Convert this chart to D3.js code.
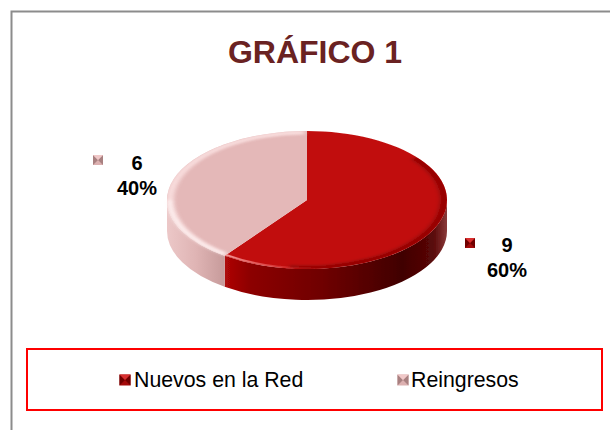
<!DOCTYPE html>
<html><head><meta charset="utf-8">
<script src="https://cdn.jsdelivr.net/npm/d3@7"></script>
<style>html,body{margin:0;padding:0;background:#fff}svg{display:block}text{font-family:"Liberation Sans",Arial,sans-serif}</style>
</head><body><div id="c"></div>
<script>
const categories = ["Nuevos en la Red", "Reingresos"];
const values = [9, 6];
const percentLabels = ["60%", "40%"];
const chartTitle = "GRÁFICO 1";

const W = 610, H = 430;
const cx = 307, cy = 200, rx = 140, ry = 69, depth = 31;
const svg = d3.select("#c").append("svg").attr("width", W).attr("height", H);
const defs = svg.append("defs");

function grad(id, stops, x1, x2) {
  const g = defs.append("linearGradient").attr("id", id).attr("gradientUnits","userSpaceOnUse")
    .attr("x1", x1).attr("x2", x2).attr("y1", 0).attr("y2", 0);
  stops.forEach(s => g.append("stop").attr("offset", s[0]).attr("stop-color", s[1]).attr("stop-opacity", s[2] === undefined ? 1 : s[2]));
}
grad("wallRed", [[0,"#b00808"],[0.12,"#8c0000"],[0.45,"#6e0000"],[0.8,"#400000"],[0.94,"#5a0808"],[1,"#8a3a3a"]], 224, 447);
grad("wallPink", [[0,"#ecc8c8"],[0.5,"#dfb4b4"],[1,"#c69a9a"]], 167, 225);
grad("hiRed", [[0,"#f49a9a",1],[0.5,"#e85a5a",0.7],[1,"#d02020",0]], -82, 10);
defs.append("filter").attr("id","soft").append("feGaussianBlur").attr("stdDeviation",0.5);
defs.append("filter").attr("id","bev").attr("x","-20%").attr("y","-20%").attr("width","140%").attr("height","140%")
  .append("feGaussianBlur").attr("stdDeviation",2.2);
defs.append("clipPath").attr("id","topClip").append("ellipse").attr("rx",rx).attr("ry",rx);

// frame (only top and left visible)
svg.append("path").attr("d", d3.line()([[11.5,H],[11.5,11.5],[W,11.5]]))
  .attr("fill","none").attr("stroke","#8c8c8c").attr("stroke-width",2);

svg.append("text").attr("x",315).attr("y",63).attr("text-anchor","middle")
  .attr("font-size",32).attr("font-weight",700).attr("fill","#6a2222").text(chartTitle);

const pie = d3.pie().sort(null);
const arcs = pie(values);
const arc = d3.arc().innerRadius(0).outerRadius(rx);
const sy = ry / rx;
const topFills = ["#c11010","#e4b8b8"];
const rimFills = ["#8c0606","#fbe2e2"];
const wallFills = ["url(#wallRed)","url(#wallPink)"];

const pieG = svg.append("g").attr("filter","url(#soft)");

// wall
const ex = d3.scaleLinear().domain([-1,1]).range([cx-rx,cx+rx]);
const ey = d3.scaleLinear().domain([-1,1]).range([cy-ry,cy+ry]);
function wallPath(a0, a1) {
  const lo = Math.max(a0, Math.PI/2), hi = Math.min(a1, 3*Math.PI/2);
  if (hi <= lo) return null;
  const pt = (a, d) => [ex(Math.sin(a)), ey(-Math.cos(a)) + d];
  const s0 = pt(lo,0), s1 = pt(hi,0), b1 = pt(hi,depth), b0 = pt(lo,depth);
  return `M${s0}A${rx},${ry} 0 0 1 ${s1}L${b1}A${rx},${ry} 0 0 0 ${b0}Z`;
}
pieG.selectAll("path.wall").data(arcs).join("path").attr("class","wall")
  .attr("d", d => wallPath(d.startAngle, d.endAngle))
  .attr("fill", (d,i) => wallFills[i]);

// top
const topG = pieG.append("g").attr("transform",`translate(${cx},${cy}) scale(1,${sy})`);
topG.selectAll("path.top").data(arcs).join("path").attr("class","top")
  .attr("d", arc).attr("fill",(d,i)=>topFills[i]);

// bevel rim along the outer edge of each slice, kept on the top face
const rimG = topG.append("g").attr("clip-path","url(#topClip)");
const rimArc = d3.arc().innerRadius(rx-7).outerRadius(rx+1);
rimG.append("path").datum({startAngle:arcs[0].startAngle+0.9,endAngle:arcs[0].endAngle-0.5})
  .attr("d", rimArc).attr("fill",rimFills[0]).attr("filter","url(#bev)").attr("opacity",0.85);
rimG.append("path").datum({startAngle:arcs[1].startAngle+0.02,endAngle:arcs[1].endAngle-0.02})
  .attr("d", rimArc).attr("fill",rimFills[1]).attr("filter","url(#bev)").attr("opacity",0.85);

// specular highlights at the front-left of the rim
topG.append("path").datum({startAngle:arcs[1].startAngle,endAngle:Math.PI*1.5})
  .attr("d",d3.arc().innerRadius(rx-4).outerRadius(rx-0.5)).attr("fill","#fff6f6").attr("opacity",0.9).attr("filter","url(#bev)");
topG.append("path").datum({startAngle:Math.PI*0.95,endAngle:arcs[0].endAngle})
  .attr("d",d3.arc().innerRadius(rx-4).outerRadius(rx-0.5)).attr("fill","url(#hiRed)");

// data labels
const labelPos = [{kx:507,ky:252,mx:470,my:243},{kx:137,ky:170,mx:98,my:160}];
function marker(g, x, y, s, i) {
  const light = i===0 ? "#d83030" : "#f0c8c8";
  const mid = i===0 ? "#a40a0a" : "#dcb0b0";
  const dark = i===0 ? "#700000" : "#a88080";
  const h = s/2;
  g.append("rect").attr("x",x-h).attr("y",y-h).attr("width",s).attr("height",s).attr("fill",mid);
  g.append("path").attr("d",d3.line()([[x-h,y-h],[x,y],[x-h,y+h]])).attr("fill",dark);
  g.append("path").attr("d",d3.line()([[x+h,y-h],[x,y],[x+h,y+h]])).attr("fill",dark);
  g.append("path").attr("d",d3.line()([[x-h,y-h],[x+h,y-h],[x,y]])).attr("fill",light);
}
const lg = svg.append("g");
arcs.forEach((d,i)=>{
  const p = labelPos[i];
  marker(lg,p.mx,p.my,10,i);
  lg.append("text").attr("x",p.kx).attr("y",p.ky).attr("text-anchor","middle")
    .attr("font-size",20).attr("font-weight",700).attr("fill","#000").text(d.data);
  lg.append("text").attr("x",p.kx).attr("y",p.ky+25).attr("text-anchor","middle")
    .attr("font-size",20).attr("font-weight",700).attr("fill","#000").text(percentLabels[i]);
});

// legend
svg.append("rect").attr("x",27).attr("y",349).attr("width",575).attr("height",61)
  .attr("fill","none").attr("stroke","#fe0000").attr("stroke-width",2);
const legendX = [125,403], legendTextX = [134,411];
categories.forEach((c,i)=>{
  marker(svg,legendX[i],380,11,i);
  svg.append("text").attr("x",legendTextX[i]).attr("y",387).attr("font-size",21.3).attr("fill","#000").text(c);
});
</script></body></html>
